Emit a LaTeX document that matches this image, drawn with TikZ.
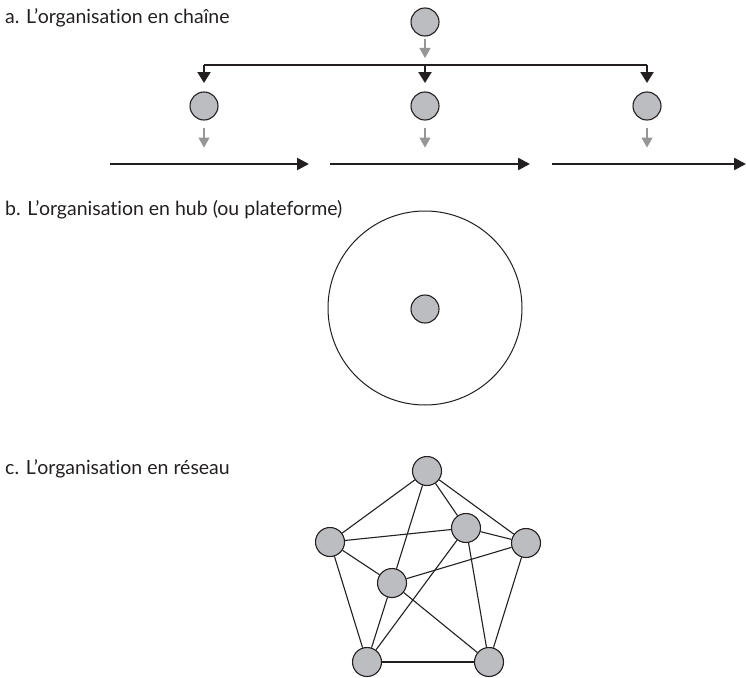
\documentclass[tikz,border=0pt]{standalone}
\usepackage{fontspec}
\setmainfont{Lato}[Ligatures={NoCommon}]
\usetikzlibrary{arrows.meta}
\definecolor{nodegray}{RGB}{188,189,192}
\definecolor{arrgray}{RGB}{150,150,150}
\definecolor{ink}{RGB}{35,31,32}
\begin{document}
\begin{tikzpicture}[x=1pt,y=-1pt,
  dot/.style={circle,draw=ink,fill=nodegray,line width=1.1pt,minimum size=28pt,inner sep=0pt},
  netdot/.style={dot,minimum size=29pt},
  label/.style={anchor=base west,inner sep=0pt,font=\fontsize{19.5}{23}\selectfont,text=ink},
  grayarrow/.style={draw=arrgray,line width=1.2pt,-{Triangle[length=10pt,width=11pt]},arrgray},
  downarrow/.style={draw=ink,line width=2.2pt,-{Triangle[length=11pt,width=13pt]}},
  chainarrow/.style={draw=ink,line width=2.5pt,-{Triangle[length=12pt,width=12pt]}},
  edge/.style={draw=ink,line width=1.1pt}]
\useasboundingbox (0,0) rectangle (746,677);

% a. chain
\node[label] (ta) at (5,24) {a. L’organisation en chaîne};
\node[dot] (t) at (425,22) {};
\node[dot] (c1) at (204,106) {};
\node[dot] (c2) at (425,106) {};
\node[dot] (c3) at (647,106) {};
\coordinate (jl) at (204,65);
\coordinate (jm) at (425,65);
\coordinate (jr) at (647,65);
\coordinate (tg) at (425,39);
\coordinate (tge) at (425,58);
\draw[grayarrow] (tg) -- (tge);
\draw[draw=ink,line width=2.2pt] (jl) -- (jr);
\draw[downarrow] (jl) -- ++(0,18);
\draw[downarrow] (jm) -- ++(0,18);
\draw[downarrow] (jr) -- ++(0,18);
\foreach \n in {c1,c2,c3}{
  \draw[grayarrow] ([yshift=-7pt]\n.south) -- ++(0,20);
}
\coordinate (a1s) at (110,164); \coordinate (a1e) at (309,164);
\coordinate (a2s) at (330,164); \coordinate (a2e) at (530,164);
\coordinate (a3s) at (552,164); \coordinate (a3e) at (746,164);
\draw[chainarrow] (a1s) -- (a1e);
\draw[chainarrow] (a2s) -- (a2e);
\draw[chainarrow] (a3s) -- (a3e);

% b. hub
\node[label] (tb) at (5,215) {b. L’organisation en hub (ou plateforme)};
\node[circle,draw=ink,line width=1pt,minimum size=194pt,inner sep=0pt] (hub) at (425,308) {};
\node[dot] (hc) at (425,309) {};

% c. network
\node[label] (tc) at (5,474) {c. L’organisation en réseau};
\node[netdot] (n1) at (427,471) {};
\node[netdot] (n2) at (330,542) {};
\node[netdot] (n3) at (466,528) {};
\node[netdot] (n4) at (526,543) {};
\node[netdot] (n5) at (392,583) {};
\node[netdot] (n6) at (367,662) {};
\node[netdot] (n7) at (489,662) {};
\foreach \a/\b in {n1/n2,n1/n5,n1/n3,n1/n4,n2/n3,n2/n5,n2/n6,n3/n4,n3/n6,n3/n7,n5/n4,n5/n6,n5/n7,n4/n7,n6/n7}{
  \draw[edge] (\a) -- (\b);
}
\end{tikzpicture}
\end{document}
